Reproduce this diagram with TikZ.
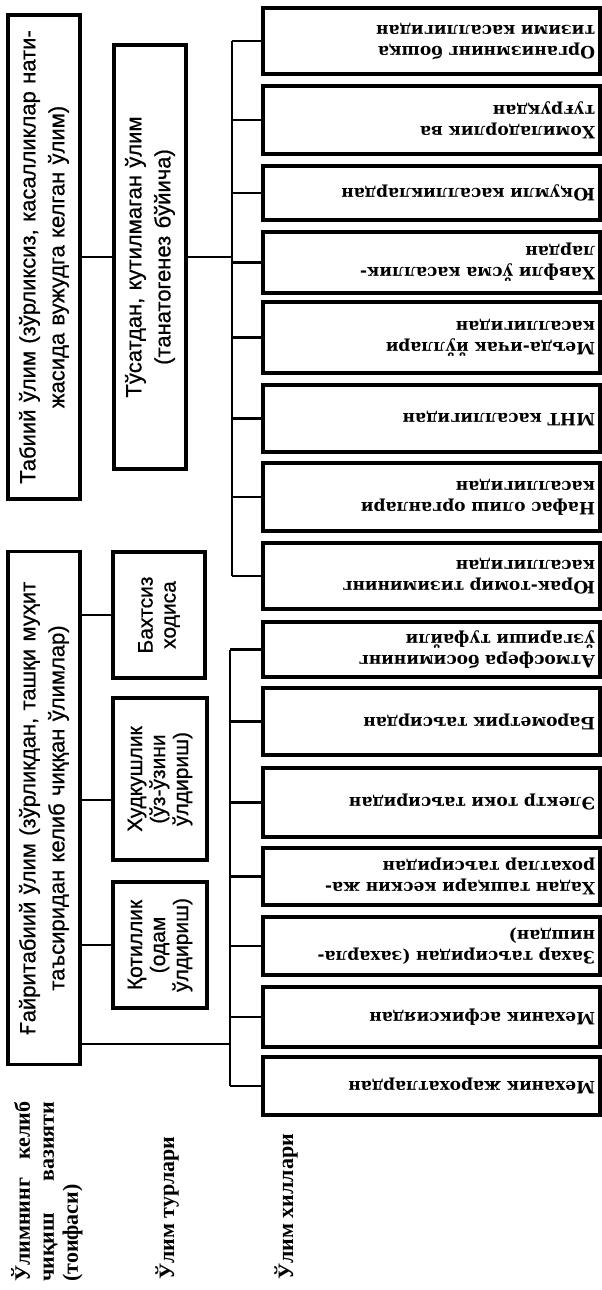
\documentclass[tikz,border=0pt]{standalone}
\usepackage{fontspec}
\setmainfont{Liberation Sans}
\newfontfamily\boxfont{Liberation Sans}[FakeBold=0.7]
\newfontfamily\leaffont{DejaVu Serif}
\newfontfamily\labfont{Liberation Serif}

\begin{document}
\begin{tikzpicture}[x=1pt,y=-1pt,
    box/.style={draw,line width=3.2pt,rotate=90,inner sep=2pt,align=center,
      font=\boxfont\fontsize{22}{29}\selectfont},
    subbox/.style={box,font=\boxfont\fontsize{21}{23}\selectfont},
    kind/.style={draw,line width=3.2pt,rotate=180,minimum width=337,
      text width=327,inner xsep=5pt,inner ysep=2pt,align=left,
      font=\leaffont\bfseries\fontsize{17}{21}\selectfont},
    lab/.style={rotate=90,inner sep=0pt,align=left,
      font=\labfont\bfseries\fontsize{22}{24}\selectfont},
    conn/.style={line width=2.6pt}]
  \useasboundingbox (0,0) rectangle (602,1290);

  % row titles
  \node[lab,anchor=north west,text width=180] (lvl1) at (11,1282)
    {Ўлимнинг\hfill келиб\\чиқиш\hfill вазияти\\(тоифаси)};
  \node[lab,anchor=base west] (lvl2) at (174,1280) {Ўлим турлари};
  \node[lab,anchor=base west] (lvl3) at (293,1280) {Ўлим хиллари};

  % categories
  \node[box,minimum width=484,minimum height=72,text width=474] (tab) at (44,257)
    {Табиий ўлим (зўрликсиз, касалликлар нати-\\жасида вужудга келган ўлим)};
  \node[box,minimum width=424,minimum height=72,text width=414] (tus) at (150,257)
    {Тўсатдан, кутилмаган ўлим\\(танатогенез бўйича)};
  \node[box,minimum width=513,minimum height=72,text width=503] (gai) at (44,808)
    {Ғайритабиий ўлим (зўрликдан, ташқи муҳит\\таъсиридан келиб чиққан ўлимлар)};
  \node[subbox,minimum width=126,minimum height=92,text width=116] (bax) at (159,615)
    {Бахтсиз\\ходиса};
  \node[subbox,minimum width=162,minimum height=94,text width=152] (hud) at (160,779)
    {Худкушлик\\(ўз-ўзини\\ўлдириш)};
  \node[subbox,minimum width=126,minimum height=94,text width=116] (qot) at (160,945)
    {Қотиллик\\(одам\\ўлдириш)};

  % kinds
  \node[kind,minimum height=66] (k1) at (431.5,41) {Организмнинг бошқа\\тизими касаллигидан};
  \node[kind,minimum height=68] (k2) at (431.5,120) {Хомиладорлик ва\\туғруқдан};
  \node[kind,minimum height=54] (k3) at (431.5,193) {Юқумли касалликлардан};
  \node[kind,minimum height=61] (k4) at (431.5,262.5) {Хавфли ўсма касаллик-\\лардан};
  \node[kind,minimum height=71] (k5) at (431.5,337.5) {Меъда-ичак йўллари\\касаллигидан};
  \node[kind,minimum height=67] (k6) at (431.5,418.5) {МНТ касаллигидан};
  \node[kind,minimum height=68] (k7) at (431.5,497) {Нафас олиш органлари\\касаллигидан};
  \node[kind,minimum height=66] (k8) at (431.5,576) {Юрак-томир тизимининг\\касаллигидан};
  \node[kind,minimum height=55] (k9) at (431.5,649.5) {Атмосфера босимининг\\ўзгариши туфайли};
  \node[kind,minimum height=67] (k10) at (431.5,721.5) {Барометрик таъсирдан};
  \node[kind,minimum height=69] (k11) at (431.5,802.5) {Электр токи таъсиридан};
  \node[kind,minimum height=57] (k12) at (431.5,876.5) {Хадан ташқари кескин жа-\\рохатлар таъсиридан};
  \node[kind,minimum height=58] (k13) at (431.5,946) {Захар таъсиридан (захарла-\\нишдан)};
  \node[kind,minimum height=60] (k14) at (431.5,1017) {Механик асфиксиядан};
  \node[kind,minimum height=58] (k15) at (431.5,1086) {Механик жарохатлардан};

  \coordinate (b1) at (232,0);
  \coordinate (b2) at (230,0);
  \coordinate (j2) at (230,1044);

  % connectors
  \draw[conn] (tab) -- (tus);
  \draw[conn] (tus) -- (tus -| b1);
  \draw[conn] (b1 |- k1) -- (b1 |- k8);
  \foreach \i in {1,...,8} \draw[conn] (b1 |- k\i) -- (k\i);
  \draw[conn] (gai.south |- bax) -- (bax);
  \draw[conn] ([yshift=-21pt]hud.north) -- ([yshift=-21pt]hud.north -| gai.south);
  \draw[conn] (gai.south |- qot) -- (qot);
  \draw[conn] (j2 -| gai.south) -- (j2);
  \draw[conn] (b2 |- k9) -- (b2 |- k15);
  \foreach \i in {9,...,15} \draw[conn] (b2 |- k\i) -- (k\i);
\end{tikzpicture}
\end{document}
